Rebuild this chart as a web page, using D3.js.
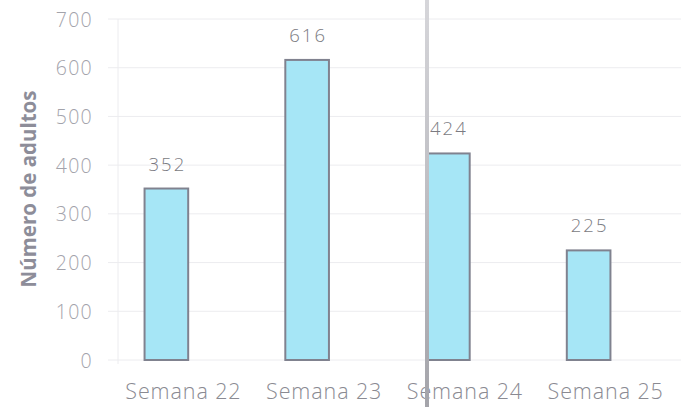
<!DOCTYPE html>
<html><head><meta charset="utf-8">
<script src="https://cdn.jsdelivr.net/npm/d3@7"></script>
<style>body{margin:0;background:#fff}svg{display:block}</style>
</head><body>
<svg id="c" width="681" height="407"></svg>
<script>
const categories = ["Semana 22", "Semana 23", "Semana 24", "Semana 25"];
const values = [352, 616, 424, 225];
const yTicks = [0, 100, 200, 300, 400, 500, 600, 700];
const yTitle = "Número de adultos";

const svg = d3.select("#c");
const font = "'Open Sans', 'Noto Sans', sans-serif";
const y = d3.scaleLinear().domain([0, 700]).range([360, 19]);
const x = d3.scaleBand().domain(categories).range([96, 659]).paddingInner(0.69).paddingOuter(0.345);

const defs = svg.append("defs");
const grad = defs.append("linearGradient").attr("id", "fold").attr("x1", 0).attr("x2", 0).attr("y1", 0).attr("y2", 1);
grad.append("stop").attr("offset", "0%").attr("stop-color", "#d6d6da");
grad.append("stop").attr("offset", "100%").attr("stop-color", "#a4a4aa");

// gridlines
svg.append("g").selectAll("line").data(yTicks).join("line")
  .attr("x1", 108).attr("x2", 681)
  .attr("y1", d => y(d)).attr("y2", d => y(d))
  .attr("stroke", "#ececef").attr("stroke-width", 1);
// left axis line
svg.append("line").attr("x1", 118).attr("x2", 118).attr("y1", y(700)).attr("y2", y(0) + 4)
  .attr("stroke", "#ececef");

// y tick labels
const yAxis = d3.axisLeft(y).tickValues(yTicks).tickSize(0).tickPadding(0);
const ga = svg.append("g").attr("transform", "translate(93,0)").call(yAxis);
ga.select(".domain").remove();
ga.selectAll("text").attr("font-family", font).attr("font-size", 19.5).attr("font-weight", 300)
  .attr("letter-spacing", 1.3).attr("fill", "#a3a3ab").attr("dy", "0.36em");

// y title
svg.append("text").attr("transform", "translate(36,189) rotate(-90)")
  .attr("text-anchor", "middle").attr("font-family", font).attr("font-size", 20.5).attr("font-weight", "bold")
  .attr("fill", "#8d8d99").text(yTitle);

// bars
svg.append("g").selectAll("rect").data(values).join("rect")
  .attr("x", (d, i) => x(categories[i]))
  .attr("width", x.bandwidth())
  .attr("y", d => y(d))
  .attr("height", d => y(0) - y(d))
  .attr("fill", "#a6e6f6").attr("stroke", "#80828f").attr("stroke-width", 2);

// value labels
svg.append("g").selectAll("text").data(values).join("text")
  .attr("x", (d, i) => x(categories[i]) + x.bandwidth() / 2 + 1)
  .attr("y", d => y(d) - 18)
  .attr("text-anchor", "middle").attr("font-family", font).attr("font-size", 18.5).attr("font-weight", 300)
  .attr("letter-spacing", 2).attr("fill", "#7b7b82")
  .text(d => d);

// x labels
const xAxis = d3.axisBottom(x).tickSize(0).tickPadding(0);
const gx = svg.append("g").attr("transform", "translate(17,399)").call(xAxis);
gx.select(".domain").remove();
gx.selectAll("text").attr("font-family", font).attr("font-size", 21.5).attr("font-weight", 300)
  .attr("letter-spacing", 0.9).attr("fill", "#8a8a92").attr("dy", 0);

// scan fold line
svg.append("rect").attr("x", 425).attr("y", 0).attr("width", 4).attr("height", 407)
  .attr("fill", "url(#fold)");
</script>
</body></html>
